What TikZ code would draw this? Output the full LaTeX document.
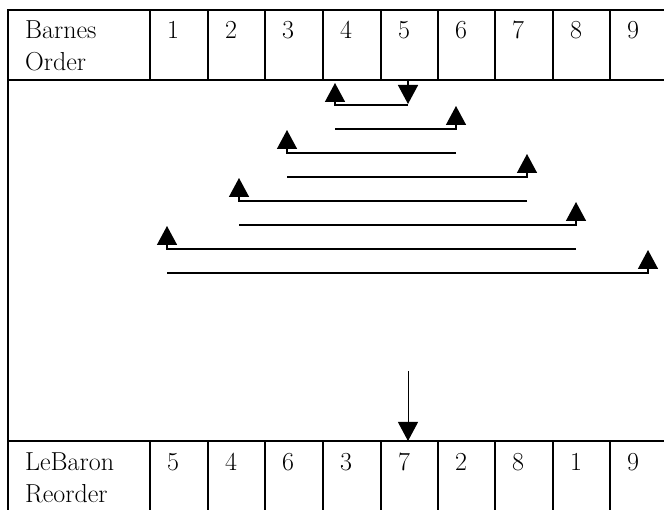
\documentclass[tikz,border=0pt]{standalone}
\usetikzlibrary{arrows.meta}
\begin{document}
\begin{tikzpicture}[x=1pt,y=-1pt,
  rule/.style={line width=1.5pt},
  cell/.style={anchor=base west,inner sep=0pt,font=\fontsize{26}{32}\selectfont,align=left},
  hop/.style={line width=1.5pt,-{Triangle[width=20pt,length=19pt]}},
  drop/.style={line width=1pt,-{Triangle[width=20pt,length=19pt]}}]
\useasboundingbox (0,0) rectangle (664,510);

% table frame: header row, open middle row, bottom row
\draw[rule] (668,10) -- (8,10) -- (8,514);
\draw[rule] (8,80) -- (668,80);
\draw[rule] (8,441) -- (668,441);
\foreach \x in {150,208,265,323,381,438,495,553,610} {
  \draw[rule] (\x,10) -- (\x,80);
  \draw[rule] (\x,441) -- (\x,514);
}

% header row (two-line labels are anchored on their last line)
\node[cell] (barnes) at (25,71) {Barnes\\Order};
\foreach \n/\x in {1/150,2/208,3/265,4/323,5/381,6/438,7/495,8/553,9/610}
  \node[cell] (b\n) at (\x+17,39) {\n};

% bottom row
\node[cell] (lebaron) at (25,502) {LeBaron\\Reorder};
\foreach \n/\v/\x in {1/5/150,2/4/208,3/6/265,4/3/323,5/7/381,6/2/438,7/8/495,8/1/553,9/9/610}
  \node[cell] (r\n) at (\x+17,470) {\v};

% columns of the hops
\def\ca{335}\def\cb{408}\def\cc{456}\def\cd{287}\def\ce{527}
\def\cf{239}\def\cg{576}\def\ch{167}\def\ci{648}

% start point under column 5 and the hop levels
\coordinate (s0) at (\cb,81);
\coordinate (s1) at (\cb,104);
\coordinate (h1a) at (\cb,105); \coordinate (h1b) at (\ca,105); \coordinate (t1) at (\ca,83);
\coordinate (h2a) at (\ca,129); \coordinate (h2b) at (\cc,129); \coordinate (t2) at (\cc,106);
\coordinate (h3a) at (\cc,153); \coordinate (h3b) at (\cd,153); \coordinate (t3) at (\cd,130);
\coordinate (h4a) at (\cd,177); \coordinate (h4b) at (\ce,177); \coordinate (t4) at (\ce,154);
\coordinate (h5a) at (\ce,201); \coordinate (h5b) at (\cf,201); \coordinate (t5) at (\cf,178);
\coordinate (h6a) at (\cf,225); \coordinate (h6b) at (\cg,225); \coordinate (t6) at (\cg,202);
\coordinate (h7a) at (\cg,249); \coordinate (h7b) at (\ch,249); \coordinate (t7) at (\ch,226);
\coordinate (h8a) at (\ch,273); \coordinate (h8b) at (\ci,273); \coordinate (t8) at (\ci,250);

\draw[hop] (s0) -- (s1);
\foreach \k in {1,...,8}
  \draw[hop] (h\k a) -- (h\k b) -- (t\k);

% final drop into the reordered row
\coordinate (d0) at (\cb,371);
\coordinate (d1) at (\cb,441);
\draw[drop] (d0) -- (d1);
\end{tikzpicture}
\end{document}
